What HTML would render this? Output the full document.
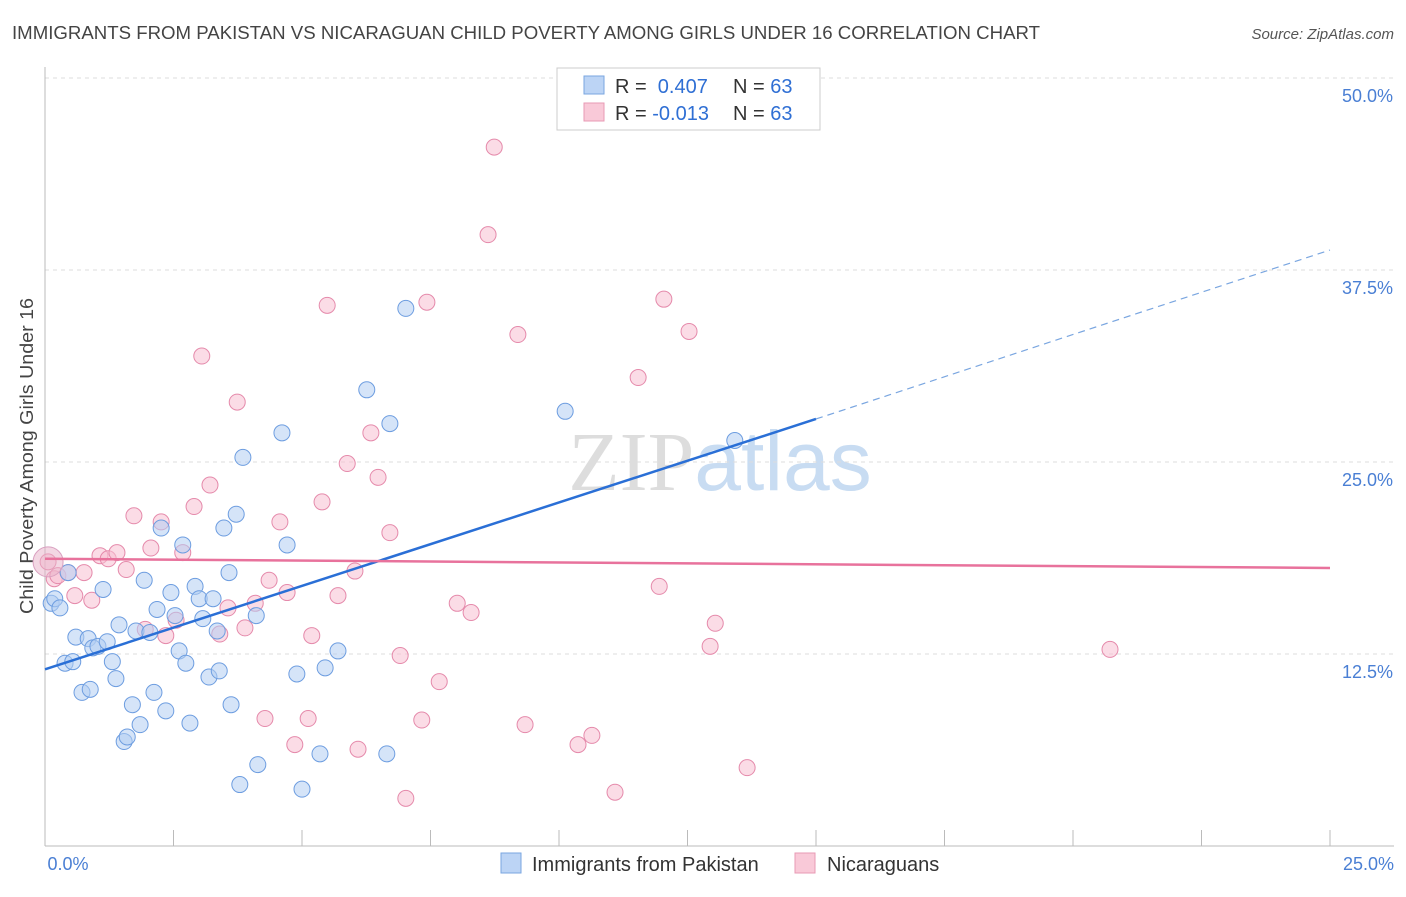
<!DOCTYPE html>
<html><head><meta charset="utf-8"><style>
body{margin:0;background:#fff;font-family:"Liberation Sans",sans-serif;}
svg text{font-family:"Liberation Sans",sans-serif;}
</style></head><body>
<svg id="chart" width="1406" height="892" xmlns="http://www.w3.org/2000/svg">
<text x="12" y="39" font-size="18" fill="#444" textLength="1028" lengthAdjust="spacingAndGlyphs">IMMIGRANTS FROM PAKISTAN VS NICARAGUAN CHILD POVERTY AMONG GIRLS UNDER 16 CORRELATION CHART</text>
<text x="1394" y="39" font-size="15" fill="#555" text-anchor="end" font-style="italic">Source: ZipAtlas.com</text>
<text transform="translate(33,456) rotate(-90)" font-size="18" fill="#444" text-anchor="middle" textLength="316" lengthAdjust="spacingAndGlyphs">Child Poverty Among Girls Under 16</text>
<text x="720" y="490" font-size="84" text-anchor="middle"><tspan fill="#ddd" font-family="Liberation Serif">ZIP</tspan><tspan fill="#c8dcf2">atlas</tspan></text>
<g id="grid"></g><g id="axes"></g><g id="points"></g><g id="lines"></g>
<g>
<rect x="557" y="68" width="263" height="62" fill="#fff" stroke="#ccc"/>
<rect x="584" y="76" width="20" height="18" fill="#bcd4f5" stroke="#7aa6e0"/>
<rect x="584" y="103" width="20" height="18" fill="#f9c9d8" stroke="#e89ab4"/>
<text x="615" y="93" font-size="20" fill="#333">R = <tspan fill="#2f6fd4">&#160;0.407</tspan><tspan x="733">N = </tspan><tspan fill="#2f6fd4">63</tspan></text>
<text x="615" y="120" font-size="20" fill="#333">R = <tspan fill="#2f6fd4">-0.013</tspan><tspan x="733">N = </tspan><tspan fill="#2f6fd4">63</tspan></text>
</g>
<g>
<rect x="501" y="853" width="20" height="20" fill="#bcd4f5" stroke="#7aa6e0"/>
<text x="532" y="871" font-size="20" fill="#333">Immigrants from Pakistan</text>
<rect x="795" y="853" width="20" height="20" fill="#f9c9d8" stroke="#e89ab4"/>
<text x="827" y="871" font-size="20" fill="#333">Nicaraguans</text>
</g>
</svg>
<script>
const yTicks=[12.5,25,37.5,50];
const yTickLabels=["12.5%","25.0%","37.5%","50.0%"];
const xTickLabels=["0.0%","25.0%"];
const blueX=[0.12,0.19,0.29,0.45,0.39,0.54,0.60,0.72,0.84,0.88,0.93,1.03,1.13,1.21,1.31,1.38,1.44,1.54,1.60,1.70,1.77,1.85,1.93,2.04,2.12,2.18,2.26,2.35,2.45,2.53,2.61,2.68,2.74,2.82,2.92,3.00,3.07,3.19,3.27,3.35,3.39,3.48,3.58,3.62,3.72,3.79,3.85,4.11,4.14,4.61,4.71,4.90,5.00,5.35,5.45,5.70,6.26,6.65,6.71,7.02,10.12,13.42];
const blueY=[15.8,16.1,15.5,17.8,11.9,12.0,13.6,10.0,13.5,10.2,12.9,13.0,16.7,13.3,12.0,10.9,14.4,6.8,7.1,9.2,14.0,7.9,17.3,13.9,10.0,15.4,20.7,8.8,16.5,15.0,12.7,19.6,11.9,8.0,16.9,16.1,14.8,11.0,16.1,14.0,11.4,20.7,17.8,9.2,21.6,4.0,25.3,15.0,5.3,26.9,19.6,11.2,3.7,6.0,11.6,12.7,29.7,6.0,27.5,35.0,28.3,26.4];
const pinkX=[0.06,0.18,0.25,0.45,0.58,0.76,0.91,1.07,1.23,1.40,1.58,1.73,1.95,2.06,2.26,2.35,2.55,2.68,2.90,3.05,3.21,3.40,3.56,3.74,3.89,4.09,4.28,4.36,4.57,4.71,4.86,5.12,5.19,5.39,5.49,5.70,5.88,6.03,6.09,6.34,6.48,6.71,6.91,7.02,7.33,7.43,7.67,8.02,8.29,8.62,8.74,9.20,9.34,10.37,10.64,11.09,11.54,11.95,12.04,12.53,12.94,13.04,13.66,20.72];
const pinkY=[18.5,17.4,17.6,17.8,16.3,17.8,16.0,18.9,18.7,19.1,18.0,21.5,14.1,19.4,21.1,13.7,14.7,19.1,22.1,31.9,23.5,13.8,15.5,28.9,14.2,15.8,8.3,17.3,21.1,16.5,6.6,8.3,13.7,22.4,35.2,16.3,24.9,17.9,6.3,26.9,24.0,20.4,12.4,3.1,8.2,35.4,10.7,15.8,15.2,39.8,45.5,33.3,7.9,6.6,7.2,3.5,30.5,16.9,35.6,33.5,13.0,14.5,5.1,12.8];
const blueLine=[0,11.5,15,27.8,25,38.8];
const pinkLine=[0,18.7,25,18.1];
const X=v=>45+v*51.4, Y=v=>846-v*15.36;
const NS="http://www.w3.org/2000/svg";
function mk(tag,attrs,parent){const e=document.createElementNS(NS,tag);for(const k in attrs)e.setAttribute(k,attrs[k]);parent.appendChild(e);return e;}
const grid=document.getElementById('grid'),axes=document.getElementById('axes'),pts=document.getElementById('points'),lines=document.getElementById('lines');
yTicks.forEach((t,i)=>{
 const l=mk('line',{x1:45,x2:1394,y1:Y(t),y2:Y(t),stroke:'#ddd','stroke-dasharray':'4,4'},grid);
 
 
 const tx=mk('text',{x:1393,y:Y(t)+24,'font-size':18,fill:'#4a7fd4','text-anchor':'end'},axes);
 tx.textContent=yTickLabels[i];
 
 
});
const yax=mk('line',{x1:45,x2:45,y1:67,y2:846,stroke:'#bbb'},axes);


const xax=mk('line',{x1:45,x2:1394,y1:846,y2:846,stroke:'#bbb'},axes);


for(let i=0;i<=10;i++){const v=i*2.5;const t=mk('line',{x1:X(v),x2:X(v),y1:830,y2:846,stroke:'#bbb'},axes);
 
 }
[[0,68,'middle'],[25,1394,'end']].forEach((a,i)=>{const t=mk('text',{x:a[1],y:870,'font-size':18,fill:'#4a7fd4','text-anchor':a[2]},axes);t.textContent=xTickLabels[i];
 
 });
function dots(xs,ys,fill,stroke,name){xs.forEach((x,i)=>{const c=mk('circle',{cx:X(x),cy:Y(ys[i]),r:8,fill:fill,'fill-opacity':0.55,stroke:stroke,'stroke-width':1},pts);
 
 });}
dots(pinkX,pinkY,'#f7bfd2','#e58aab','nicaraguans-point');
dots(blueX,blueY,'#b3cdf2','#6d9de0','pakistan-point');
const big=mk('circle',{cx:X(0.06),cy:Y(18.5),r:15,fill:'#e8b0c8','fill-opacity':0.5,stroke:'#d9a0c0'},pts);


const b1=mk('line',{x1:X(blueLine[0]),y1:Y(blueLine[1]),x2:X(blueLine[2]),y2:Y(blueLine[3]),stroke:'#2a6fd6','stroke-width':2.5},lines);


const b2=mk('line',{x1:X(blueLine[2]),y1:Y(blueLine[3]),x2:X(blueLine[4]),y2:Y(blueLine[5]),stroke:'#7aa6e0','stroke-width':1.2,'stroke-dasharray':'7,5'},lines);


const p1=mk('line',{x1:X(pinkLine[0]),y1:Y(pinkLine[1]),x2:X(pinkLine[2]),y2:Y(pinkLine[3]),stroke:'#e8729c','stroke-width':2.5},lines);


</script>
</body></html>
